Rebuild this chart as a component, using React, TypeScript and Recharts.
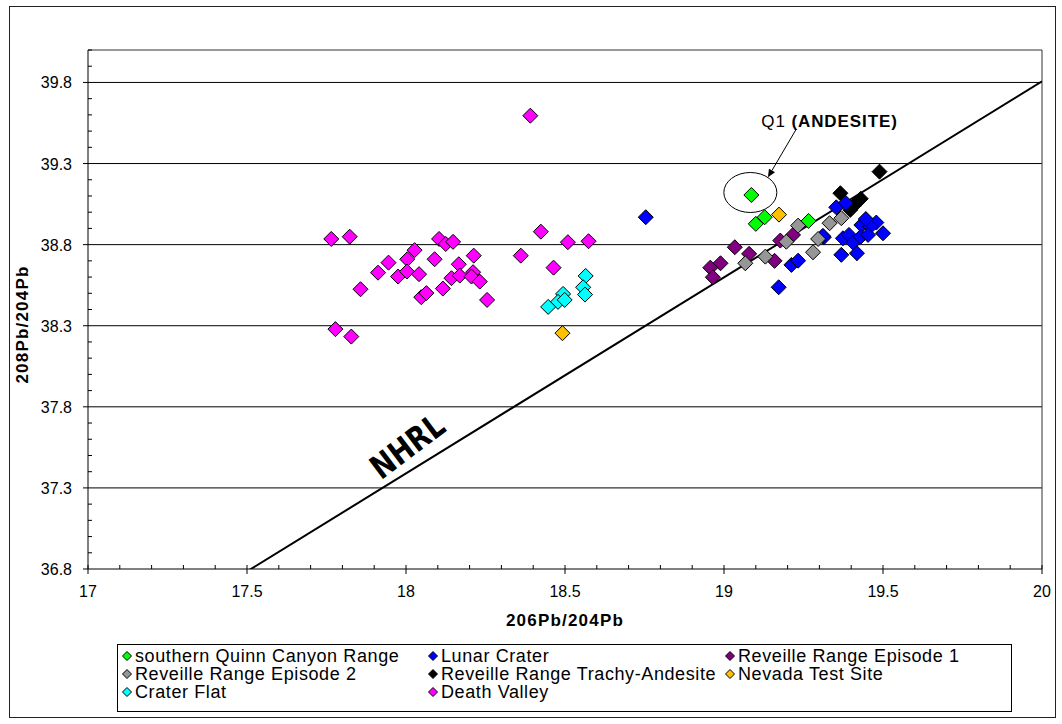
import React from 'react';
import { ScatterChart, Scatter, XAxis, YAxis, ReferenceLine, ReferenceDot } from 'recharts';

type Pair = [number, number];

// 206Pb/204Pb, 208Pb/204Pb pairs per locality
const southernQuinn: Pair[] = [
  [19.086, 39.106], [19.1, 38.928], [19.128, 38.969], [19.266, 38.946],
];
const lunarCrater: Pair[] = [
  [18.754, 38.969], [19.172, 38.537], [19.212, 38.675], [19.233, 38.701], [19.314, 38.846],
  [19.353, 39.03], [19.432, 38.921], [19.479, 38.936], [19.46, 38.911], [19.5, 38.87],
  [19.374, 38.839], [19.393, 38.86], [19.406, 38.812], [19.43, 38.849], [19.453, 38.86],
  [19.369, 38.737], [19.418, 38.747], [19.311, 38.854], [19.383, 39.057], [19.446, 38.958],
];
const reveilleEp1: Pair[] = [
  [19.034, 38.784], [19.079, 38.743], [18.989, 38.685], [18.957, 38.658],
  [18.965, 38.599], [19.159, 38.7], [19.177, 38.825], [19.217, 38.86],
];
const reveilleEp2: Pair[] = [
  [19.233, 38.917], [19.196, 38.818], [19.332, 38.932], [19.369, 38.963],
  [19.296, 38.835], [19.28, 38.753], [19.13, 38.726], [19.067, 38.685],
];
const trachyAndesite: Pair[] = [
  [19.489, 39.25], [19.366, 39.117], [19.418, 39.059], [19.397, 39.014], [19.43, 39.083],
];
const nevadaTestSite: Pair[] = [
  [18.492, 38.254], [19.173, 38.985],
];
const craterFlat: Pair[] = [
  [18.565, 38.607], [18.557, 38.537], [18.563, 38.492], [18.494, 38.496],
  [18.478, 38.447], [18.499, 38.459], [18.447, 38.416],
];
const deathValley: Pair[] = [
  [18.391, 39.595], [17.765, 38.835], [17.823, 38.849], [18.027, 38.766], [18.004, 38.71],
  [17.945, 38.689], [17.912, 38.627], [17.975, 38.603], [18.003, 38.634], [18.041, 38.618],
  [17.857, 38.525], [18.048, 38.476], [18.064, 38.501], [18.09, 38.71], [18.104, 38.835],
  [18.125, 38.804], [18.148, 38.817], [18.213, 38.732], [18.166, 38.679], [18.116, 38.529],
  [18.143, 38.593], [18.169, 38.609], [18.211, 38.63], [18.206, 38.603], [18.232, 38.572],
  [18.255, 38.459], [18.361, 38.732], [18.424, 38.88], [18.509, 38.815], [18.574, 38.821],
  [18.464, 38.658], [17.778, 38.279], [17.828, 38.233],
];

// Northern Hemisphere Reference Line end points
const nhrl: Pair[] = [[17.5, 36.785], [20, 39.807]];

const seriesNames = [
  'southern Quinn Canyon Range', 'Lunar Crater', 'Reveille Range Episode 1',
  'Reveille Range Episode 2', 'Reveille Range Trachy-Andesite', 'Nevada Test Site',
  'Crater Flat', 'Death Valley',
];
const seriesColors = ['#00ff00', '#0000ff', '#800080', '#969696', '#000000', '#ffc000', '#00ffff', '#ff00ff'];
const seriesData = [southernQuinn, lunarCrater, reveilleEp1, reveilleEp2, trachyAndesite, nevadaTestSite, craterFlat, deathValley];
// painting order, back to front
const drawOrder = [7, 6, 4, 1, 2, 3, 0, 5];

const xMajorTicks = [17, 17.5, 18, 18.5, 19, 19.5, 20];
const yMajorTicks = [36.8, 37.3, 37.8, 38.3, 38.8, 39.3, 39.8];
const xDomain: [number, number] = [17, 20];
const yDomain: [number, number] = [36.8, 40];

const stepTicks = (from: number, to: number, step: number) => {
  const out: number[] = [];
  const n = Math.round((to - from) / step);
  for (let i = 0; i <= n; i++) out.push(Math.round((from + i * step) * 10) / 10);
  return out;
};
const xAllTicks = stepTicks(17, 20, 0.1);
const yAllTicks = stepTicks(36.8, 40, 0.1);

const isIn = (v: number, list: number[]) => list.some((m) => Math.abs(m - v) < 1e-6);
const fmt = (v: number) => (Number.isInteger(v) ? String(v) : v.toFixed(1));

const FONT = '"Liberation Sans", Arial, sans-serif';

const toPts = (d: Pair[]) => d.map(([x, y]) => ({ x, y }));

const Diamond = (props: any) => {
  const { cx, cy, fill } = props;
  if (cx == null || cy == null) return <g />;
  const r = 7.5;
  return (
    <polygon
      points={`${cx},${cy - r} ${cx + r},${cy} ${cx},${cy + r} ${cx - r},${cy}`}
      fill={fill}
      stroke="#000"
      strokeWidth={1}
    />
  );
};

const XTick = (props: any) => {
  const { x, y, payload } = props;
  const v = payload.value as number;
  const major = isIn(v, xMajorTicks);
  return (
    <g>
      <line x1={x} x2={x} y1={y - 4} y2={major ? y + 5 : y} stroke="#000" strokeWidth={1} />
      {major && (
        <text x={x} y={y + 28} textAnchor="middle" fontSize={16} fontFamily={FONT} fill="#000">
          {fmt(v)}
        </text>
      )}
    </g>
  );
};

const YTick = (props: any) => {
  const { x, y, payload } = props;
  const v = payload.value as number;
  const major = isIn(v, yMajorTicks);
  return (
    <g>
      {major ? (
        <line x1={x - 5} x2={x} y1={y} y2={y} stroke="#000" strokeWidth={1} />
      ) : (
        <line x1={x} x2={x + 4} y1={y} y2={y} stroke="#000" strokeWidth={1} />
      )}
      {major && (
        <text x={x - 16} y={y + 6} textAnchor="end" fontSize={16} fontFamily={FONT} fill="#000">
          {v.toFixed(1)}
        </text>
      )}
    </g>
  );
};

const XTitle = (props: any) => {
  const vb = props.viewBox;
  return (
    <text x={vb.x + vb.width / 2} y={vb.y + 57} textAnchor="middle" fontSize={17} fontWeight="bold" fontFamily={FONT} letterSpacing={1.2} fill="#000">
      206Pb/204Pb
    </text>
  );
};

const YTitle = (props: any) => {
  const vb = props.viewBox;
  const cy = vb.y + vb.height / 2 + 15;
  return (
    <text x={28} y={cy} transform={`rotate(-90, 28, ${cy})`} textAnchor="middle" fontSize={17} fontWeight="bold" fontFamily={FONT} letterSpacing={1.2} fill="#000">
      208Pb/204Pb
    </text>
  );
};

const NhrlLabel = (props: any) => {
  const { cx, cy } = props;
  return (
    <text
      transform={`translate(${cx},${cy}) rotate(-37) scale(0.82,1)`}
      textAnchor="middle"
      dominantBaseline="central"
      fontSize={33}
      fontWeight={900}
      fontFamily='"DejaVu Sans", sans-serif'
      fill="#000"
    >
      NHRL
    </text>
  );
};

const Q1Callout = (props: any) => {
  const { cx, cy } = props;
  const tipX = cx + 16.6;
  const tipY = cy - 17.7;
  const startX = cx + 45;
  const startY = cy - 66;
  const ang = Math.atan2(tipY - startY, tipX - startX);
  const h = 8;
  const w = 3.5;
  const bx = tipX - h * Math.cos(ang);
  const by = tipY - h * Math.sin(ang);
  return (
    <g>
      <ellipse cx={cx - 1} cy={cy - 2.5} rx={26.5} ry={20} fill="none" stroke="#000" strokeWidth={1} />
      <line x1={startX} y1={startY} x2={bx} y2={by} stroke="#000" strokeWidth={1} />
      <polygon
        points={`${tipX},${tipY} ${bx + w * Math.sin(ang)},${by - w * Math.cos(ang)} ${bx - w * Math.sin(ang)},${by + w * Math.cos(ang)}`}
        fill="#000"
      />
      <text x={cx + 10} y={cy - 68} fontSize={17} fontFamily={FONT} letterSpacing={0.9} fill="#000">
        Q1 <tspan fontWeight="bold">(ANDESITE)</tspan>
      </text>
    </g>
  );
};

const legendCols = [127, 433, 730];
const legendRows = [656, 674, 692];

const LegendBox = () => (
  <div
    style={{
      position: 'absolute',
      left: 117,
      top: 644,
      width: 893,
      height: 66,
      border: '1px solid #000',
      background: '#fff',
    }}
  >
    {seriesNames.map((name, i) => {
      const col = i % 3;
      const row = Math.floor(i / 3);
      const left = legendCols[col] - 118;
      const top = legendRows[row] - 645;
      return (
        <div key={name} style={{ position: 'absolute', left: left - 5, top: top - 9, height: 18, display: 'flex', alignItems: 'center', whiteSpace: 'nowrap' }}>
          <svg width={10} height={10} style={{ marginRight: 3 }}>
            <polygon points="5,0.5 9.5,5 5,9.5 0.5,5" fill={seriesColors[i]} stroke="#000" strokeWidth={1} />
          </svg>
          <span style={{ fontFamily: FONT, fontSize: 18, letterSpacing: 0.6, color: '#000' }}>{name}</span>
        </div>
      );
    })}
  </div>
);

export default function App() {
  const q1 = southernQuinn[0];
  return (
    <div style={{ position: 'absolute', left: 0, top: 0, width: 1062, height: 724, background: '#fff' }}>
      <div style={{ position: 'absolute', left: 9, top: 6, width: 1047, height: 712, border: '1px solid #222', boxSizing: 'border-box' }} />
      <div style={{ position: 'absolute', left: 0, top: 0 }}>
        <ScatterChart width={1062} height={724} margin={{ top: 50, right: 20, bottom: 125, left: 0 }}>
          <XAxis
            type="number"
            dataKey="x"
            domain={xDomain}
            ticks={xAllTicks}
            interval={0}
            allowDataOverflow
            height={30}
            tickSize={0}
            tickMargin={0}
            tickLine={false}
            tick={<XTick />}
            axisLine={{ stroke: '#000', strokeWidth: 1 }}
            label={<XTitle />}
          />
          <YAxis
            type="number"
            dataKey="y"
            domain={yDomain}
            ticks={yAllTicks}
            interval={0}
            allowDataOverflow
            width={88}
            tickSize={0}
            tickMargin={0}
            tickLine={false}
            tick={<YTick />}
            axisLine={{ stroke: '#000', strokeWidth: 1 }}
            label={<YTitle />}
          />
          {yMajorTicks.slice(1).map((v) => (
            <ReferenceLine key={`g${v}`} y={v} stroke="#000" strokeWidth={1} />
          ))}
          <ReferenceLine y={40} stroke="#333" strokeWidth={1} />
          <ReferenceLine x={20} stroke="#333" strokeWidth={1} />
          <Scatter
            data={toPts(nhrl)}
            line={{ stroke: '#000', strokeWidth: 2 }}
            shape={() => <g />}
            isAnimationActive={false}
          />
          {drawOrder.map((i) => (
            <Scatter
              key={seriesNames[i]}
              name={seriesNames[i]}
              data={toPts(seriesData[i])}
              fill={seriesColors[i]}
              shape={<Diamond />}
              isAnimationActive={false}
            />
          ))}
          <ReferenceDot x={18.004} y={37.557} r={0} shape={<NhrlLabel />} ifOverflow="visible" />
          <ReferenceDot x={q1[0]} y={q1[1]} r={0} shape={<Q1Callout />} ifOverflow="visible" />
        </ScatterChart>
      </div>
      <LegendBox />
    </div>
  );
}
